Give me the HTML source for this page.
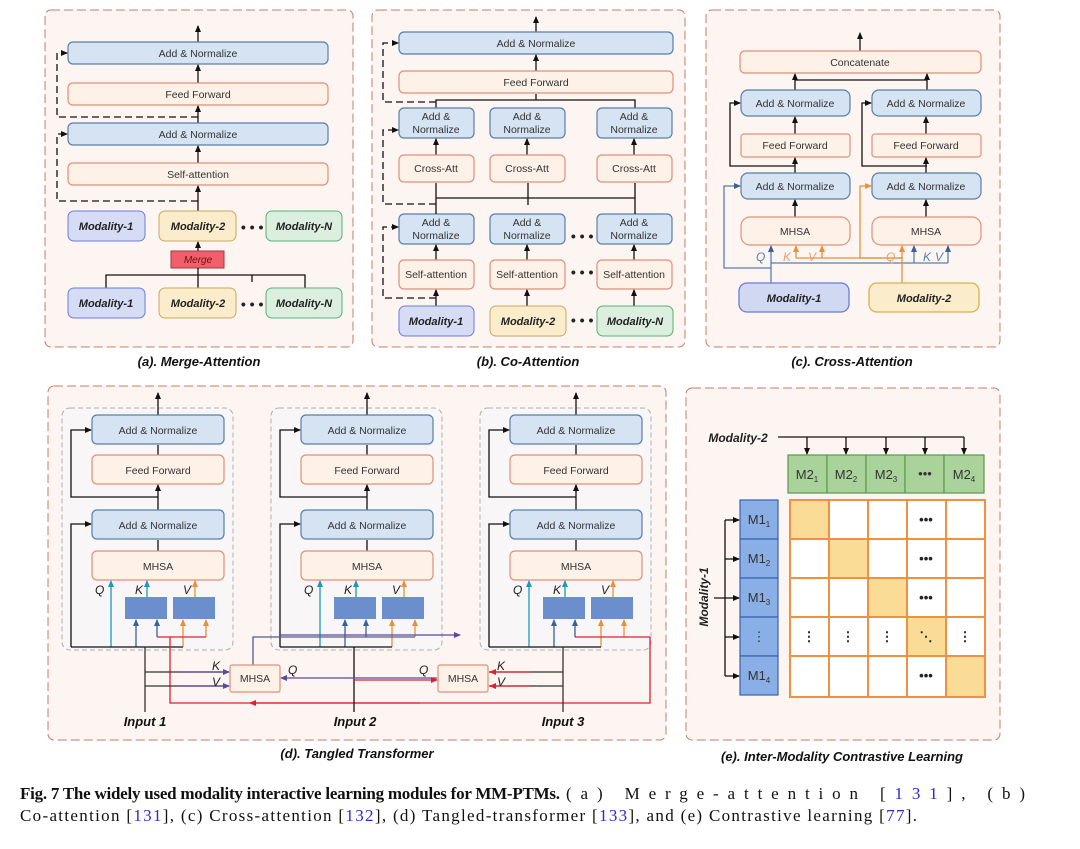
<!DOCTYPE html>
<html><head><meta charset="utf-8"><style>
body{margin:0;background:#fff;}
svg{display:block;font-family:"Liberation Sans",sans-serif;}
.b{fill:#d5e3f2;stroke:#5a7fa8;stroke-width:1.2}
.o{fill:#fdf1e8;stroke:#e0907a;stroke-width:1.2}
.t{font-size:10.5px;fill:#333;text-anchor:middle}
.m{font-size:11px;font-weight:bold;font-style:italic;fill:#222;text-anchor:middle}
.cap{font-size:13px;font-weight:bold;font-style:italic;fill:#111;text-anchor:middle}
.ln{stroke:#111;stroke-width:1.3;fill:none}
.dl{stroke:#111;stroke-width:1.3;fill:none;stroke-dasharray:7,4}
.pan{fill:#fdf5f1;stroke:#c97c66;stroke-width:1;stroke-dasharray:9,4}
.sub{fill:#f8f6f6;stroke:#b0b0b0;stroke-width:1;stroke-dasharray:5,3}
.q{font-size:12px;font-style:italic;fill:#222}
</style></head><body>
<svg width="1080" height="849" viewBox="0 0 1080 849">
<defs>
<marker id="a" markerWidth="8" markerHeight="8" refX="6" refY="4" orient="auto" markerUnits="userSpaceOnUse"><path d="M0,1 L7,4 L0,7z" fill="#111"/></marker>
<marker id="ab" markerWidth="8" markerHeight="8" refX="6" refY="4" orient="auto" markerUnits="userSpaceOnUse"><path d="M0,1 L7,4 L0,7z" fill="#3a5f9a"/></marker>
<marker id="ao" markerWidth="8" markerHeight="8" refX="6" refY="4" orient="auto" markerUnits="userSpaceOnUse"><path d="M0,1 L7,4 L0,7z" fill="#e8903a"/></marker>
<marker id="ar" markerWidth="8" markerHeight="8" refX="6" refY="4" orient="auto" markerUnits="userSpaceOnUse"><path d="M0,1 L7,4 L0,7z" fill="#e02030"/></marker>
<marker id="ac" markerWidth="8" markerHeight="8" refX="6" refY="4" orient="auto" markerUnits="userSpaceOnUse"><path d="M0,1 L7,4 L0,7z" fill="#1a9ac0"/></marker>
<marker id="ap" markerWidth="8" markerHeight="8" refX="6" refY="4" orient="auto" markerUnits="userSpaceOnUse"><path d="M0,1 L7,4 L0,7z" fill="#5a4a9a"/></marker>
</defs>

<rect class="pan" x="45" y="10" width="308" height="337" rx="6"/>
<rect class="pan" x="372" y="10" width="313" height="337" rx="6"/>
<rect class="pan" x="706" y="10" width="294" height="337" rx="6"/>
<rect class="pan" x="48" y="386" width="618" height="354" rx="6"/>
<rect class="pan" x="686" y="388" width="314" height="352" rx="6"/>

<!-- (a) -->
<g>
<line class="ln" x1="198" y1="42" x2="198" y2="26" marker-end="url(#a)"/>
<rect class="b" x="68" y="42" width="260" height="22" rx="5"/><text class="t" x="198" y="57">Add &amp; Normalize</text>
<line class="ln" x1="198" y1="83" x2="198" y2="65" marker-end="url(#a)"/>
<rect class="o" x="68" y="83" width="260" height="22" rx="5"/><text class="t" x="198" y="98">Feed Forward</text>
<line class="ln" x1="198" y1="123" x2="198" y2="106" marker-end="url(#a)"/>
<rect class="b" x="68" y="123" width="260" height="22" rx="5"/><text class="t" x="198" y="138">Add &amp; Normalize</text>
<line class="ln" x1="198" y1="163" x2="198" y2="146" marker-end="url(#a)"/>
<rect class="o" x="68" y="163" width="260" height="22" rx="5"/><text class="t" x="198" y="178">Self-attention</text>
<line class="ln" x1="198" y1="211" x2="198" y2="186" marker-end="url(#a)"/>
<path class="dl" d="M198,117 H57 V53 H67" marker-end="url(#a)"/>
<path class="dl" d="M198,201 H57 V134 H67" marker-end="url(#a)"/>
<rect x="68" y="211" width="77" height="30" rx="6" fill="#d6dcf3" stroke="#6a7be0"/><text class="m" x="106" y="230">Modality-1</text>
<rect x="159" y="211" width="77" height="30" rx="6" fill="#fbeccb" stroke="#c9a860"/><text class="m" x="198" y="230">Modality-2</text>
<text class="m" x="252" y="232" style="font-size:14px">• • •</text>
<rect x="266" y="211" width="76" height="30" rx="6" fill="#dcefdf" stroke="#55b07a"/><text class="m" x="304" y="230">Modality-N</text>
<line class="ln" x1="198" y1="251" x2="198" y2="242" marker-end="url(#a)"/>
<rect x="171" y="251" width="53" height="17" fill="#f0606a" stroke="#b03040"/><text x="198" y="263" style="font-size:10px;font-style:italic;fill:#701010;text-anchor:middle">Merge</text>
<path class="ln" d="M106,288 V275 H305 V288 M198,268 V288 M252,275 V282"/>
<rect x="68" y="288" width="77" height="30" rx="6" fill="#d6dcf3" stroke="#6a7be0"/><text class="m" x="106" y="307">Modality-1</text>
<rect x="159" y="288" width="77" height="30" rx="6" fill="#fbeccb" stroke="#c9a860"/><text class="m" x="198" y="307">Modality-2</text>
<text class="m" x="252" y="309" style="font-size:14px">• • •</text>
<rect x="266" y="288" width="76" height="30" rx="6" fill="#dcefdf" stroke="#55b07a"/><text class="m" x="304" y="307">Modality-N</text>
<text class="cap" x="199" y="366">(a). Merge-Attention</text>
</g>

<!-- (b) -->
<g>
<line class="ln" x1="536" y1="32" x2="536" y2="17" marker-end="url(#a)"/>
<rect class="b" x="399" y="32" width="274" height="22" rx="5"/><text class="t" x="536" y="47">Add &amp; Normalize</text>
<line class="ln" x1="536" y1="71" x2="536" y2="55" marker-end="url(#a)"/>
<rect class="o" x="399" y="71" width="274" height="22" rx="5"/><text class="t" x="536" y="86">Feed Forward</text>
<path class="ln" d="M436,108 V100 H635 V108 M536,100 V94"/>
<path class="dl" d="M436,102 H383 V43 H398" marker-end="url(#a)"/>
<g id="bcol">
<rect class="b" x="399" y="108" width="75" height="30" rx="5"/><text class="t" x="436" y="120">Add &amp;</text><text class="t" x="436" y="133">Normalize</text>
<line class="ln" x1="436" y1="155" x2="436" y2="139" marker-end="url(#a)"/>
<rect class="o" x="399" y="155" width="75" height="27" rx="5"/><text class="t" x="436" y="172">Cross-Att</text>
<rect class="b" x="399" y="214" width="75" height="30" rx="5"/><text class="t" x="436" y="226">Add &amp;</text><text class="t" x="436" y="239">Normalize</text>
<line class="ln" x1="436" y1="260" x2="436" y2="245" marker-end="url(#a)"/>
<rect class="o" x="399" y="260" width="75" height="29" rx="5"/><text class="t" x="436" y="278">Self-attention</text>
<line class="ln" x1="436" y1="306" x2="436" y2="290" marker-end="url(#a)"/>
</g>
<use href="#bcol" x="91"/>
<use href="#bcol" x="198"/>
<path class="ln" d="M436,214 V198 H635 V214 M528,198 V205 M436,188 V183 M436,198 V188"/>
<path class="ln" d="M528,183 V198 M635,183 V198"/>
<path class="dl" d="M436,204 H383 V130 H398" marker-end="url(#a)"/>
<path class="dl" d="M436,298 H383 V227 H398" marker-end="url(#a)"/>
<text class="m" x="582" y="241" style="font-size:14px">• • •</text>
<text class="m" x="582" y="277" style="font-size:14px">• • •</text>
<text class="m" x="582" y="325" style="font-size:14px">• • •</text>
<rect x="399" y="306" width="75" height="30" rx="6" fill="#d6dcf3" stroke="#6a7be0"/><text class="m" x="436" y="325">Modality-1</text>
<rect x="490" y="306" width="76" height="30" rx="6" fill="#fbeccb" stroke="#c9a860"/><text class="m" x="528" y="325">Modality-2</text>
<rect x="597" y="306" width="76" height="30" rx="6" fill="#dcefdf" stroke="#55b07a"/><text class="m" x="635" y="325">Modality-N</text>
<text class="cap" x="528" y="366">(b). Co-Attention</text>
</g>

<!-- (c) -->
<g>
<line class="ln" x1="860" y1="51" x2="860" y2="33" marker-end="url(#a)"/>
<rect class="o" x="740" y="51" width="241" height="22" rx="5"/><text class="t" x="860" y="66">Concatenate</text>
<path class="ln" d="M795,80 H927"/>
<line class="ln" x1="795" y1="90" x2="795" y2="74" marker-end="url(#a)"/><line class="ln" x1="927" y1="90" x2="927" y2="74" marker-end="url(#a)"/>
<g id="ccol">
<rect class="b" x="741" y="90" width="109" height="26" rx="7"/><text class="t" x="795" y="107">Add &amp; Normalize</text>
<line class="ln" x1="795" y1="134" x2="795" y2="117" marker-end="url(#a)"/>
<rect class="o" x="741" y="134" width="109" height="23" rx="3"/><text class="t" x="795" y="149">Feed Forward</text>
<line class="ln" x1="795" y1="173" x2="795" y2="158" marker-end="url(#a)"/>
<rect class="b" x="741" y="173" width="109" height="26" rx="7"/><text class="t" x="795" y="190">Add &amp; Normalize</text>
<line class="ln" x1="795" y1="217" x2="795" y2="200" marker-end="url(#a)"/>
<rect class="o" x="741" y="217" width="109" height="28" rx="9"/><text class="t" x="795" y="235">MHSA</text>
</g>
<use href="#ccol" x="131"/>
<path class="ln" d="M795,166 H730 V103 H740" marker-end="url(#a)"/>
<path class="ln" d="M927,166 H862 V103 H871" marker-end="url(#a)"/>
<path d="M771,283 V268 H724 V186 H740" stroke="#5a7fb0" fill="none" stroke-width="1.3" marker-end="url(#ab)"/>
<path d="M771,268 V246" stroke="#5a7fb0" fill="none" stroke-width="1.3" marker-end="url(#ab)"/>
<path d="M771,263 H948" stroke="#5a7fb0" fill="none" stroke-width="1.3"/>
<line x1="914" y1="263" x2="914" y2="246" stroke="#5a7fb0" stroke-width="1.3" marker-end="url(#ab)"/>
<line x1="948" y1="263" x2="948" y2="246" stroke="#5a7fb0" stroke-width="1.3" marker-end="url(#ab)"/>
<path d="M902,283 V258 H796" stroke="#e8903a" fill="none" stroke-width="1.3"/>
<line x1="796" y1="258" x2="796" y2="246" stroke="#e8903a" stroke-width="1.3" marker-end="url(#ao)"/>
<line x1="822" y1="258" x2="822" y2="246" stroke="#e8903a" stroke-width="1.3" marker-end="url(#ao)"/>
<line x1="902" y1="258" x2="902" y2="246" stroke="#e8903a" stroke-width="1.3" marker-end="url(#ao)"/>
<path d="M902,258 H860 V186 H871" stroke="#e8903a" fill="none" stroke-width="1.3" marker-end="url(#ao)"/>
<text class="q" x="756" y="261" style="fill:#5a7fb0">Q</text><text class="q" x="783" y="261" style="fill:#e8a070">K</text><text class="q" x="808" y="261" style="fill:#e8a070">V</text>
<text class="q" x="886" y="261" style="fill:#e8a070">Q</text><text class="q" x="923" y="261" style="fill:#5a7fb0">K</text><text class="q" x="935" y="261" style="fill:#5a7fb0">V</text>
<rect x="739" y="283" width="110" height="29" rx="8" fill="#d0d8f2" stroke="#6a7be0" stroke-width="1.3"/><text class="m" x="794" y="302">Modality-1</text>
<rect x="869" y="283" width="110" height="29" rx="8" fill="#fbeccb" stroke="#d8b050" stroke-width="1.3"/><text class="m" x="924" y="302">Modality-2</text>
<text class="cap" x="852" y="366">(c). Cross-Attention</text>
</g>

<!-- (d) -->
<g>
<g id="dcol">
<rect class="sub" x="62" y="408" width="171" height="242" rx="8"/>
<line class="ln" x1="158" y1="415" x2="158" y2="393" marker-end="url(#a)"/>
<rect class="b" x="92" y="415" width="132" height="29" rx="5"/><text class="t" x="158" y="434">Add &amp; Normalize</text>
<line class="ln" x1="158" y1="455" x2="158" y2="445"/>
<rect class="o" x="92" y="455" width="132" height="29" rx="5"/><text class="t" x="158" y="474">Feed Forward</text>
<line class="ln" x1="158" y1="510" x2="158" y2="485" marker-end="url(#a)"/>
<path class="ln" d="M158,497 H71 V430 H91" marker-end="url(#a)"/>
<rect class="b" x="92" y="510" width="132" height="29" rx="5"/><text class="t" x="158" y="529">Add &amp; Normalize</text>
<line class="ln" x1="158" y1="551" x2="158" y2="540"/>
<rect class="o" x="92" y="551" width="132" height="29" rx="5"/><text class="t" x="158" y="570">MHSA</text>
<path class="ln" d="M71,647 V524 H91" marker-end="url(#a)"/>
<rect x="125" y="597" width="42" height="22" fill="#6a8fcc"/><rect x="173" y="597" width="42" height="22" fill="#6a8fcc"/>
<text class="q" x="95" y="594">Q</text><text class="q" x="135" y="594">K</text><text class="q" x="183" y="594">V</text>
<line x1="111" y1="647" x2="111" y2="581" stroke="#1a9ac0" stroke-width="1.3" marker-end="url(#ac)"/>
<line x1="147" y1="597" x2="147" y2="581" stroke="#1a9ac0" stroke-width="1.3" marker-end="url(#ac)"/>
<line x1="195" y1="597" x2="195" y2="581" stroke="#e8903a" stroke-width="1.3" marker-end="url(#ao)"/>
<line x1="136" y1="647" x2="136" y2="620" stroke="#3a5f9a" stroke-width="1.3" marker-end="url(#ab)"/>
<line x1="157" y1="637" x2="157" y2="620" stroke="#3a5f9a" stroke-width="1.3" marker-end="url(#ab)"/>
<line x1="183" y1="647" x2="183" y2="620" stroke="#e8903a" stroke-width="1.3" marker-end="url(#ao)"/>
<line x1="206" y1="637" x2="206" y2="620" stroke="#e8903a" stroke-width="1.3" marker-end="url(#ao)"/>
<path class="ln" d="M71,647 H183"/>
</g>
<use href="#dcol" x="209"/>
<use href="#dcol" x="418"/>
<path d="M157,637 H206" stroke="#e02030" stroke-width="1.3" fill="none"/>
<path d="M170,637 V703 H650 V637 M575,637 H650" stroke="#e02030" stroke-width="1.3" fill="none"/>
<line x1="420" y1="703" x2="250" y2="703" stroke="#e02030" stroke-width="1.3" marker-end="url(#ar)"/>
<path d="M253,665 V637 H415" stroke="#5a5a8a" stroke-width="1.3" fill="none"/>
<path d="M280,635 H460" stroke="#5a4a9a" stroke-width="1.3" fill="none" marker-end="url(#ap)"/>
<path d="M145,647 V712 M145,672 H229 M145,686 H229" stroke="#333" stroke-width="1.3" fill="none"/>
<line x1="180" y1="672" x2="229" y2="672" stroke="#5a4a9a" stroke-width="1.3" marker-end="url(#ap)"/>
<line x1="180" y1="686" x2="229" y2="686" stroke="#5a4a9a" stroke-width="1.3" marker-end="url(#ap)"/>
<line class="ln" x1="354" y1="647" x2="354" y2="712"/>
<line x1="437" y1="678" x2="281" y2="678" stroke="#5a4a9a" stroke-width="1.3" marker-end="url(#ap)"/>
<line x1="354" y1="680" x2="437" y2="680" stroke="#e02030" stroke-width="1.3" marker-end="url(#ar)"/>
<path d="M563,647 V712 M563,672 H489 M563,686 H489" stroke="#333" stroke-width="1.3" fill="none"/>
<line x1="530" y1="672" x2="490" y2="672" stroke="#e02030" stroke-width="1.3" marker-end="url(#ar)"/>
<line x1="530" y1="686" x2="490" y2="686" stroke="#e02030" stroke-width="1.3" marker-end="url(#ar)"/>
<rect class="o" x="230" y="665" width="50" height="27" rx="2"/><text class="t" x="255" y="682">MHSA</text>
<rect class="o" x="438" y="665" width="50" height="27" rx="2"/><text class="t" x="463" y="682">MHSA</text>
<text class="q" x="212" y="670">K</text><text class="q" x="212" y="686">V</text><text class="q" x="288" y="674">Q</text>
<text class="q" x="419" y="674">Q</text><text class="q" x="497" y="670">K</text><text class="q" x="497" y="686">V</text>
<text class="cap" x="145" y="726">Input 1</text><text class="cap" x="355" y="726">Input 2</text><text class="cap" x="563" y="726">Input 3</text>
<text class="cap" x="357" y="758">(d).  Tangled Transformer</text>
</g>

<!-- (e) -->
<g>
<text class="m" x="738" y="442" style="font-size:12px">Modality-2</text>
<path class="ln" d="M778,437 H964"/>
<line class="ln" x1="807" y1="437" x2="807" y2="454" marker-end="url(#a)"/>
<line class="ln" x1="846" y1="437" x2="846" y2="454" marker-end="url(#a)"/>
<line class="ln" x1="886" y1="437" x2="886" y2="454" marker-end="url(#a)"/>
<line class="ln" x1="925" y1="437" x2="925" y2="454" marker-end="url(#a)"/>
<line class="ln" x1="964" y1="437" x2="964" y2="454" marker-end="url(#a)"/>
<g fill="#a9d39a" stroke="#5a9a50" stroke-width="1.2">
<rect x="788" y="455" width="39" height="38"/><rect x="827" y="455" width="39" height="38"/><rect x="866" y="455" width="39" height="38"/><rect x="905" y="455" width="39" height="38"/><rect x="944" y="455" width="40" height="38"/>
</g>
<g font-size="13" fill="#333" text-anchor="middle">
<text x="807" y="479">M2<tspan font-size="8" dy="3">1</tspan></text><text x="846" y="479">M2<tspan font-size="8" dy="3">2</tspan></text><text x="886" y="479">M2<tspan font-size="8" dy="3">3</tspan></text><text x="925" y="478">•••</text><text x="964" y="479">M2<tspan font-size="8" dy="3">4</tspan></text>
</g>
<g fill="#8aaee6" stroke="#3a60b0" stroke-width="1.2">
<rect x="740" y="500" width="38" height="39"/><rect x="740" y="539" width="38" height="39"/><rect x="740" y="578" width="38" height="39"/><rect x="740" y="617" width="38" height="39"/><rect x="740" y="656" width="38" height="39"/>
</g>
<g font-size="13" fill="#333" text-anchor="middle">
<text x="759" y="524">M1<tspan font-size="8" dy="3">1</tspan></text><text x="759" y="563">M1<tspan font-size="8" dy="3">2</tspan></text><text x="759" y="602">M1<tspan font-size="8" dy="3">3</tspan></text><text x="759" y="641">⋮</text><text x="759" y="680">M1<tspan font-size="8" dy="3">4</tspan></text>
</g>
<path class="ln" d="M725,520 V676 M714,598 H725"/>
<line class="ln" x1="725" y1="520" x2="739" y2="520" marker-end="url(#a)"/>
<line class="ln" x1="725" y1="559" x2="739" y2="559" marker-end="url(#a)"/>
<line class="ln" x1="725" y1="598" x2="739" y2="598" marker-end="url(#a)"/>
<line class="ln" x1="725" y1="637" x2="739" y2="637" marker-end="url(#a)"/>
<line class="ln" x1="725" y1="676" x2="739" y2="676" marker-end="url(#a)"/>
<text class="m" transform="translate(708,597) rotate(-90)" style="font-size:12px">Modality-1</text>
<rect x="790" y="500" width="195" height="197" fill="#fff" stroke="#f09040" stroke-width="2"/>
<g fill="#fbdc96"><rect x="791" y="501" width="38" height="38"/><rect x="830" y="540" width="38" height="38"/><rect x="869" y="579" width="38" height="38"/><rect x="908" y="618" width="38" height="38"/><rect x="947" y="657" width="37" height="39"/></g>
<path d="M829,500 V697 M868,500 V697 M907,500 V697 M946,500 V697 M790,539 H985 M790,578 H985 M790,617 H985 M790,656 H985" stroke="#f09040" stroke-width="2"/>
<g font-size="13" fill="#222" text-anchor="middle" font-weight="bold">
<text x="926" y="524">•••</text><text x="926" y="563">•••</text><text x="926" y="602">•••</text><text x="926" y="680">•••</text>
<text x="809" y="641">⋮</text><text x="848" y="641">⋮</text><text x="887" y="641">⋮</text><text x="926" y="641">⋱</text><text x="965" y="641">⋮</text>
</g>
<text class="cap" x="842" y="761">(e). Inter-Modality Contrastive Learning</text>
</g>

<!-- caption -->
<text x="20" y="799" style="font-family:'Liberation Serif',serif;font-size:17px;fill:#111;font-weight:bold" textLength="540" lengthAdjust="spacing">Fig. 7  The widely used modality interactive learning modules for MM-PTMs.</text>
<text x="566" y="799" style="font-family:'Liberation Serif',serif;font-size:17px;fill:#111" textLength="459" lengthAdjust="spacing">(a) Merge-attention [<tspan fill="#2a2ad0">131</tspan>], (b)</text>
<text x="20" y="821" style="font-family:'Liberation Serif',serif;font-size:17px;fill:#111" textLength="897" lengthAdjust="spacing">Co-attention [<tspan fill="#2a2ad0">131</tspan>], (c) Cross-attention [<tspan fill="#2a2ad0">132</tspan>], (d) Tangled-transformer [<tspan fill="#2a2ad0">133</tspan>], and (e) Contrastive learning [<tspan fill="#2a2ad0">77</tspan>].</text>
</svg>
</body></html>
